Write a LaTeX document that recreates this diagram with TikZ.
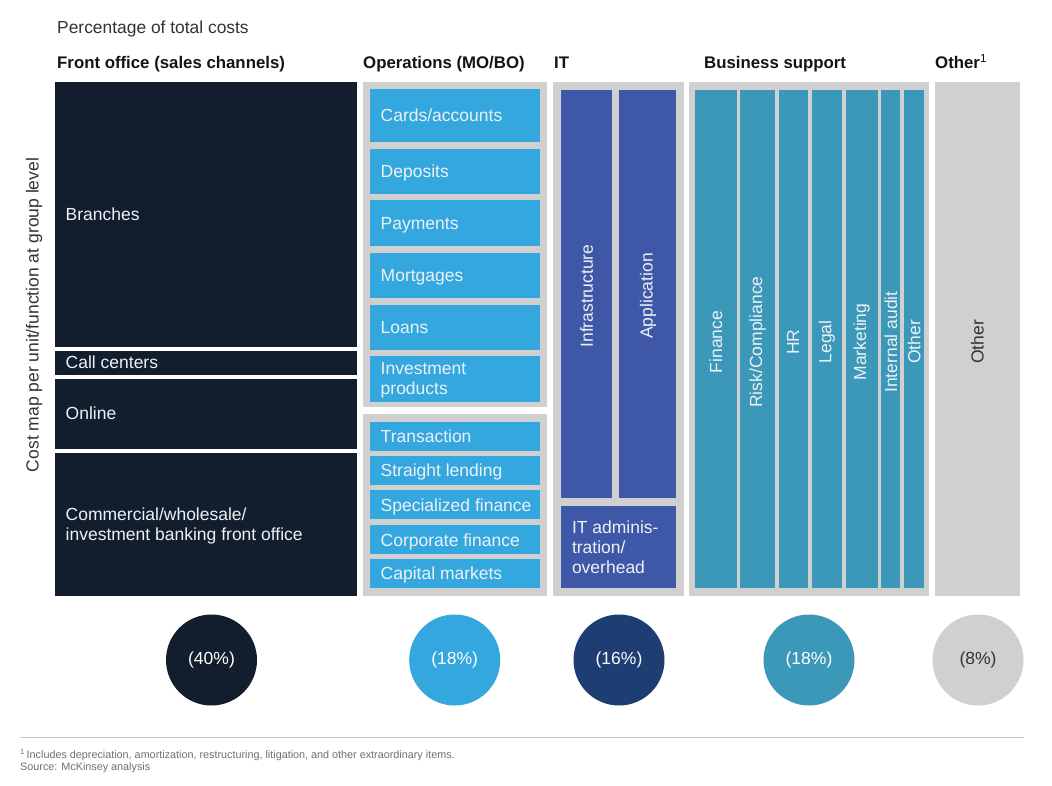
\documentclass[tikz,border=0pt]{standalone}
\usepackage{fontspec}
\setmainfont{Liberation Sans}
\definecolor{navy}{RGB}{18,30,45}
\definecolor{opsblue}{RGB}{53,167,223}
\definecolor{itblue}{RGB}{63,87,167}
\definecolor{itdark}{RGB}{30,61,114}
\definecolor{bsteal}{RGB}{59,152,184}
\definecolor{panelgray}{RGB}{208,208,208}
\definecolor{boxtext}{RGB}{236,241,246}
\definecolor{darktext}{RGB}{51,51,51}
\definecolor{headtext}{RGB}{20,20,20}
\definecolor{fngray}{RGB}{112,112,112}
\definecolor{rulegray}{RGB}{200,200,200}
\newcommand\bxfont{\fontsize{17.5}{20}\selectfont}
\newcommand\hdfont{\fontsize{16.8}{20}\selectfont\bfseries}
\newcommand\ttlfont{\fontsize{17.4}{20}\selectfont}
\newcommand\crfont{\fontsize{17.5}{20}\selectfont}
\newcommand\fnfont{\fontsize{10.8}{13}\selectfont}
\begin{document}
\begin{tikzpicture}[x=1pt,y=-1pt,
  cell/.style={inner sep=0pt, outer sep=0pt, draw=none},
  panel/.style={cell, fill=panelgray},
  lbl/.style={anchor=west, inner sep=0pt, font=\bxfont, text=boxtext, align=left, text depth=0pt},
  vlbl/.style={rotate=90, inner sep=0pt, font=\bxfont, text=boxtext},
  head/.style={anchor=base west, inner sep=0pt, font=\hdfont, text=headtext},
  circ/.style={circle, minimum size=91pt, inner sep=0pt, font=\crfont, text=white}
]
\useasboundingbox (0,0) rectangle (1052,785);
\fill[white] (0,0) rectangle (1052,785);

% title and headers
\node[anchor=base west, inner sep=0pt, font=\ttlfont, text=darktext] (title) at (57,33.3) {Percentage of total costs};
\node[head] (hfo) at (57,68.3) {Front office (sales channels)};
\node[head] (hops) at (363,68.3) {Operations (MO/BO)};
\node[head] (hit) at (554,68.3) {IT};
\node[head] (hbs) at (704,68.3) {Business support};
\node[head] (hoth) at (935,68.3) {Other\textsuperscript{\mdseries 1}};

% vertical axis label
\node[rotate=90, inner sep=0pt, font=\bxfont, text=darktext] (ylab) at (34,315) {Cost map per unit/function at group level};

% front office
\node[cell, fill=navy, minimum width=302pt, minimum height=265pt] (branches) at (206,214.5) {};
\node[cell, fill=navy, minimum width=302pt, minimum height=24pt] (callc) at (206,362.5) {};
\node[cell, fill=navy, minimum width=302pt, minimum height=70pt] (online) at (206,413.5) {};
\node[cell, fill=navy, minimum width=302pt, minimum height=143.5pt] (comm) at (206,524.25) {};
\node[lbl] (branches-t) at ([xshift=10.5pt]branches.west) {Branches};
\node[lbl] (callc-t) at ([xshift=10.5pt]callc.west) {Call centers};
\node[lbl] (online-t) at ([xshift=10.5pt]online.west) {Online};
\node[lbl] (comm-t) at ([xshift=10.5pt]comm.west) {Commercial/wholesale/\\investment banking front office};

% operations
\node[panel, minimum width=184pt, minimum height=324.5pt] (opsA) at (454.5,244.25) {};
\node[panel, minimum width=184pt, minimum height=181.4pt] (opsB) at (454.5,505) {};
\node[cell, fill=opsblue, minimum width=170pt, minimum height=52.4pt] (cards) at (455,115.5) {};
\node[cell, fill=opsblue, minimum width=170pt, minimum height=45.3pt] (deposits) at (455,171.35) {};
\node[cell, fill=opsblue, minimum width=170pt, minimum height=45.4pt] (payments) at (455,223) {};
\node[cell, fill=opsblue, minimum width=170pt, minimum height=45.3pt] (mortgages) at (455,275.35) {};
\node[cell, fill=opsblue, minimum width=170pt, minimum height=45.3pt] (loans) at (455,327.35) {};
\node[cell, fill=opsblue, minimum width=170pt, minimum height=45.7pt] (invest) at (455,378.85) {};
\node[cell, fill=opsblue, minimum width=170pt, minimum height=29pt] (transaction) at (455,436.2) {};
\node[cell, fill=opsblue, minimum width=170pt, minimum height=29.3pt] (straight) at (455,470.65) {};
\node[cell, fill=opsblue, minimum width=170pt, minimum height=29pt] (special) at (455,504.8) {};
\node[cell, fill=opsblue, minimum width=170pt, minimum height=28.7pt] (corporate) at (455,539.65) {};
\node[cell, fill=opsblue, minimum width=170pt, minimum height=28.7pt] (capital) at (455,573.35) {};
\node[lbl] (cards-t) at ([xshift=10.5pt]cards.west) {Cards/accounts};
\node[lbl] (deposits-t) at ([xshift=10.5pt]deposits.west) {Deposits};
\node[lbl] (payments-t) at ([xshift=10.5pt]payments.west) {Payments};
\node[lbl] (mortgages-t) at ([xshift=10.5pt]mortgages.west) {Mortgages};
\node[lbl] (loans-t) at ([xshift=10.5pt]loans.west) {Loans};
\node[lbl] (invest-t) at ([xshift=10.5pt]invest.west) {Investment\\products};
\node[lbl] (transaction-t) at ([xshift=10.5pt]transaction.west) {Transaction};
\node[lbl] (straight-t) at ([xshift=10.5pt]straight.west) {Straight lending};
\node[lbl] (special-t) at ([xshift=10.5pt]special.west) {Specialized finance};
\node[lbl] (corporate-t) at ([xshift=10.5pt]corporate.west) {Corporate finance};
\node[lbl] (capital-t) at ([xshift=10.5pt]capital.west) {Capital markets};

% IT
\node[panel, minimum width=131.3pt, minimum height=513.7pt] (itP) at (618.35,338.85) {};
\node[cell, fill=itblue, minimum width=50.4pt, minimum height=408.3pt] (infra) at (586.5,294.15) {};
\node[cell, fill=itblue, minimum width=56.4pt, minimum height=408.3pt] (appl) at (647.5,294.15) {};
\node[cell, fill=itblue, minimum width=114.4pt, minimum height=81.7pt] (itadm) at (618.5,546.85) {};
\node[vlbl] (infra-t) at (586.5,296) {Infrastructure};
\node[vlbl] (appl-t) at (648,296) {Application};
\node[lbl] (itadm-t) at ([xshift=10.5pt]itadm.west) {IT adminis-\\tration/\\overhead};

% business support
\node[panel, minimum width=239.7pt, minimum height=513.7pt] (bsP) at (808.85,338.85) {};
\node[cell, fill=bsteal, minimum width=41.7pt, minimum height=497.7pt] (fin) at (715.85,338.85) {};
\node[cell, fill=bsteal, minimum width=34.4pt, minimum height=497.7pt] (risk) at (757.5,338.85) {};
\node[cell, fill=bsteal, minimum width=29pt, minimum height=497.7pt] (hr) at (793.2,338.85) {};
\node[cell, fill=bsteal, minimum width=30.3pt, minimum height=497.7pt] (legal) at (826.85,338.85) {};
\node[cell, fill=bsteal, minimum width=32pt, minimum height=497.7pt] (mkt) at (861.7,338.85) {};
\node[cell, fill=bsteal, minimum width=19pt, minimum height=497.7pt] (audit) at (890.8,338.85) {};
\node[cell, fill=bsteal, minimum width=20pt, minimum height=497.7pt] (bsoth) at (914,338.85) {};
\node[vlbl] (fin-t) at (715.85,342) {Finance};
\node[vlbl] (risk-t) at (757.5,342) {Risk/Compliance};
\node[vlbl] (hr-t) at (793.2,342) {HR};
\node[vlbl] (legal-t) at (826.85,342) {Legal};
\node[vlbl] (mkt-t) at (861.7,342) {Marketing};
\node[vlbl] (audit-t) at (890.8,342) {Internal audit};
\node[vlbl] (bsoth-t) at (914,342) {Other};

% other
\node[panel, minimum width=85.3pt, minimum height=513.7pt] (othP) at (977.35,338.85) {};
\node[vlbl, text=darktext] (othP-t) at (977.35,342) {Other};

% circles
\node[circ, fill=navy] (c1) at (211.5,660) {(40\%)};
\node[circ, fill=opsblue] (c2) at (454.7,660) {(18\%)};
\node[circ, fill=itdark] (c3) at (619,660) {(16\%)};
\node[circ, fill=bsteal] (c4) at (809,660) {(18\%)};
\node[circ, fill=panelgray, text=darktext] (c5) at (978,660) {(8\%)};

% rule and footnotes
\coordinate (rl) at (20,737.5);
\coordinate (rr) at (1024,737.5);
\draw[rulegray, line width=1.2pt] (rl) -- (rr);
\node[anchor=base west, inner sep=0pt, font=\fnfont, text=fngray] (fn1) at (20,758) {\textsuperscript{1}\,Includes depreciation, amortization, restructuring, litigation, and other extraordinary items.};
\node[anchor=base west, inner sep=0pt, font=\fnfont, text=fngray] (fn2) at (20,770.5) {Source: McKinsey analysis};
\end{tikzpicture}
\end{document}
